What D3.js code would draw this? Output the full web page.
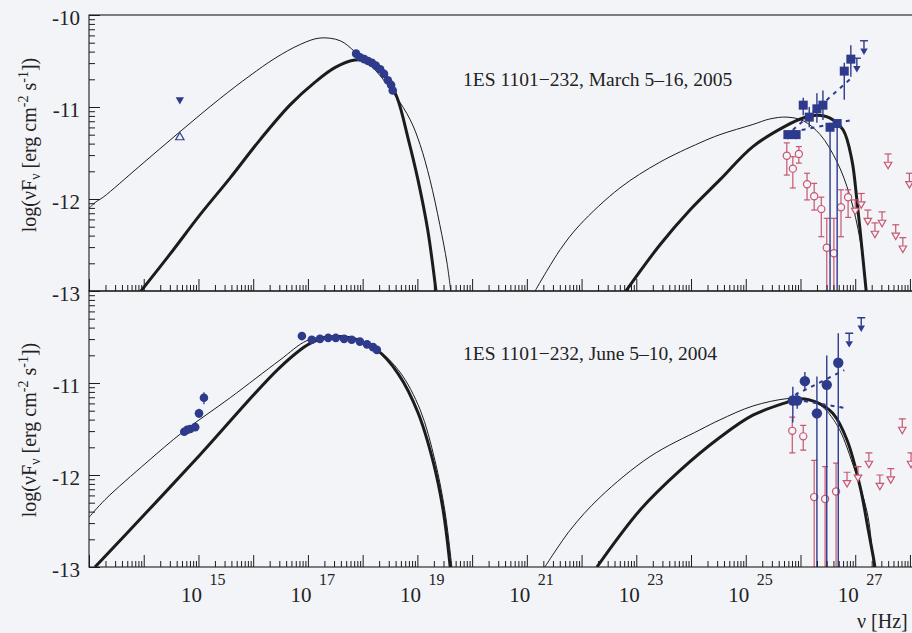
<!DOCTYPE html>
<html>
<head>
<meta charset="utf-8">
<script src="https://cdn.jsdelivr.net/npm/d3@7"></script>
<style>
  html, body { margin: 0; padding: 0; background: #f3f4f8; }
  svg { display: block; font-family: "Liberation Serif", "Times New Roman", serif; }
</style>
</head>
<body>
<svg id="chart" width="912" height="633"></svg>
<script>
// ---- data: [log10(nu), log10(nuFnu)] ----
// top panel, March 5-16 2005
const marSyncThin = [[13.00,-12.10],[13.13,-12.03],[13.26,-11.98],[13.93,-11.64],[14.66,-11.27],[15.39,-10.91],[15.94,-10.66],[16.40,-10.47],[16.86,-10.32],[17.22,-10.25],[17.59,-10.28],[17.86,-10.40],[18.23,-10.60],[18.59,-10.87],[18.87,-11.14],[19.05,-11.41],[19.23,-11.79],[19.41,-12.28],[19.54,-12.69],[19.61,-13.0]];
const marSyncThick = [[13.95,-13.0],[14.48,-12.60],[15.03,-12.17],[15.58,-11.77],[16.12,-11.36],[16.67,-10.98],[17.13,-10.73],[17.50,-10.57],[17.86,-10.49],[18.13,-10.51],[18.41,-10.65],[18.63,-10.90],[18.83,-11.34],[19.01,-11.79],[19.19,-12.34],[19.34,-13.0]];
const marICThin = [[21.15,-13.0],[21.61,-12.55],[21.97,-12.28],[22.70,-11.88],[23.43,-11.60],[24.16,-11.39],[24.53,-11.30],[25.13,-11.19],[25.44,-11.13],[25.75,-11.11],[26.05,-11.15],[26.36,-11.30],[26.67,-11.60],[26.90,-11.96],[27.09,-12.45],[27.20,-13.0]];
const marICThick = [[22.81,-13.0],[23.43,-12.50],[23.98,-12.12],[24.53,-11.79],[25.13,-11.43],[25.75,-11.20],[26.05,-11.12],[26.30,-11.09],[26.54,-11.12],[26.78,-11.25],[26.94,-11.58],[27.03,-12.01],[27.12,-12.52],[27.20,-13.0]];
const marXray = [[17.88,-10.42],[17.95,-10.46],[18.03,-10.48],[18.10,-10.50],[18.17,-10.52],[18.24,-10.55],[18.32,-10.59],[18.39,-10.64],[18.46,-10.71],[18.52,-10.76],[18.55,-10.82]];
const marOptLimit = [[14.66,-10.92]];
const marOptOpen = [[14.66,-11.33]];
// [nu, flux, errTop, errBottom]
const marVHE = [[25.77,-11.30,-11.26,-11.35],[25.92,-11.30,-11.26,-11.35],[26.05,-10.98,-10.90,-11.09],[26.16,-11.11,-11.00,-11.22],[26.30,-11.02,-10.85,-11.17],[26.41,-10.98,-10.82,-11.14],[26.54,-11.22,-11.17,-14],[26.67,-11.18,-11.16,-14],[26.80,-10.61,-10.52,-10.92],[26.92,-10.48,-10.33,-10.67]];
const marVHELimits = [[27.03,-10.47],[27.16,-10.28]];
const marBowUpper = [[25.86,-11.25],[26.96,-10.67]];
const marBowLower = [[25.86,-11.27],[26.96,-11.14]];
const marRed = [[25.75,-11.53,-11.39,-11.74],[25.86,-11.67,-11.54,-11.88],[25.97,-11.51,-11.43,-11.61],[26.12,-11.84,-11.72,-12.01],[26.25,-11.97,-11.83,-12.12],[26.38,-12.11,-11.98,-12.41],[26.48,-12.53,-12.21,-14],[26.61,-12.59,-12.21,-14],[26.74,-12.09,-11.90,-12.41],[26.87,-11.98,-11.90,-12.20]];
const marRedLimits = [[27.00,-12.01],[27.11,-11.94],[27.23,-12.12],[27.36,-12.26],[27.49,-12.14],[27.60,-11.51],[27.74,-12.28],[27.87,-12.42],[27.99,-11.72]];

// bottom panel, June 5-10 2004
const junSyncThin = [[13.00,-12.46],[13.29,-12.27],[14.06,-11.86],[14.72,-11.53],[15.58,-11.16],[16.49,-10.75],[16.98,-10.54],[17.40,-10.49],[17.86,-10.51],[18.26,-10.63],[18.68,-10.88],[19.05,-11.29],[19.32,-11.84],[19.50,-12.38],[19.63,-13.0]];
const junSyncThick = [[13.11,-13.0],[14.06,-12.40],[15.03,-11.78],[16.49,-10.83],[17.04,-10.57],[17.40,-10.50],[17.77,-10.51],[18.26,-10.64],[18.65,-10.90],[19.01,-11.32],[19.29,-11.86],[19.47,-12.38],[19.60,-13.0]];
const junICThin = [[21.33,-13.0],[21.79,-12.60],[22.34,-12.24],[23.25,-11.80],[24.16,-11.51],[24.53,-11.40],[25.13,-11.25],[25.75,-11.17],[26.05,-11.17],[26.36,-11.24],[26.67,-11.46],[26.96,-11.89],[27.22,-12.41],[27.31,-12.82],[27.34,-13.0]];
const junICThick = [[22.28,-13.0],[23.07,-12.38],[23.80,-11.95],[24.53,-11.59],[25.13,-11.35],[25.75,-11.21],[25.99,-11.17],[26.30,-11.21],[26.59,-11.33],[26.85,-11.62],[27.09,-12.13],[27.23,-12.57],[27.33,-12.89],[27.36,-13.0]];
const junXray = [[16.89,-10.49],[17.07,-10.53],[17.22,-10.52],[17.37,-10.51],[17.51,-10.51],[17.66,-10.52],[17.80,-10.53],[17.95,-10.55],[18.08,-10.58],[18.19,-10.61],[18.26,-10.64]];
const junOpt = [[14.74,-11.53,-11.53,-11.53],[14.79,-11.51,-11.51,-11.51],[14.85,-11.50,-11.50,-11.50],[14.94,-11.48,-11.48,-11.48],[15.01,-11.33,-11.28,-11.38],[15.10,-11.16,-11.10,-11.23]];
const junVHE = [[25.86,-11.19,-11.04,-11.43],[25.94,-11.19,-11.10,-11.28],[26.08,-10.98,-10.88,-11.08],[26.30,-11.33,-10.93,-14],[26.48,-11.02,-10.70,-14],[26.69,-10.78,-10.46,-14]];
const junVHELimits = [[26.89,-10.46],[27.11,-10.29]];
const junBowUpper = [[25.90,-11.13],[26.80,-10.86]];
const junBowLower = [[25.90,-11.18],[26.80,-11.27]];
const junRed = [[25.85,-11.52,-11.37,-11.76],[26.05,-11.58,-11.46,-11.73],[26.25,-12.24,-11.84,-14],[26.45,-12.26,-11.91,-14],[26.65,-12.18,-11.87,-14]];
const junRedLimits = [[26.85,-11.97],[27.05,-11.91],[27.25,-11.76],[27.45,-12.00],[27.65,-11.93],[27.86,-11.39],[28.02,-11.76]];

const xLabelExps = [15, 17, 19, 21, 23, 25, 27];
const yLabels = [-10, -11, -12, -13];

// ---- layout ----
const BLUE = '#2e3a8c';
const RED = '#c7566f';
const INK = '#1c1c1c';
const BG = '#f3f4f8';

const svg = d3.select('#chart');
const left = 89, decade = 54.73;
const x = d3.scaleLog()
  .domain([1e13, Math.pow(10, 28.5)])
  .range([left, left + decade * 15.5]);
const xRight = x.range()[1];

const panels = [
  { id: 'mar', top: 15, bottom: 291, title: '1ES 1101\u2212232, March 5\u201316, 2005',
    syncThin: marSyncThin, syncThick: marSyncThick, icThin: marICThin, icThick: marICThick,
    xray: marXray, vhe: marVHE, vheLim: marVHELimits, bow: [marBowUpper, marBowLower],
    red: marRed, redLim: marRedLimits, squares: true, yLab: yLabels, titleY: 86, axisTitleY: 145 },
  { id: 'jun', top: 291, bottom: 567, title: '1ES 1101\u2212232, June 5\u201310, 2004',
    syncThin: junSyncThin, syncThick: junSyncThick, icThin: junICThin, icThick: junICThick,
    xray: junXray, vhe: junVHE, vheLim: junVHELimits, bow: [junBowUpper, junBowLower],
    red: junRed, redLim: junRedLimits, squares: false, yLab: yLabels.slice(1), titleY: 360, axisTitleY: 430 }
];

const xTicks = [];
for (let n = 13; n <= 28; n++) {
  for (let k = 1; k <= 9; k++) {
    const v = k * Math.pow(10, n);
    if (v <= x.domain()[1]) xTicks.push(v);
  }
}
const yTicks = [-13, -12, -11, -10];
for (let n = -13; n <= -11; n++) {
  for (let k = 2; k <= 9; k++) yTicks.push(n + Math.log10(k));
}
const isDecade = d => Math.abs(Math.log10(d) - Math.round(Math.log10(d))) < 1e-6;

panels.forEach((p, i) => {
  const y = d3.scaleLinear().domain([-13, -10]).range([p.bottom, p.top]);
  const px = d => x(Math.pow(10, d[0]));
  const py = d => y(d[1]);

  const g = svg.append('g').attr('class', `panel-${p.id}`);

  svg.append('clipPath').attr('id', `clip-${p.id}`)
    .append('rect')
    .attr('x', left).attr('y', p.top)
    .attr('width', xRight - left).attr('height', p.bottom - p.top);

  const plot = g.append('g').attr('clip-path', `url(#clip-${p.id})`);

  // model curves
  const line = d3.line().x(px).y(py).curve(d3.curveCatmullRom.alpha(0.5));
  [[p.syncThin, 1], [p.icThin, 1], [p.syncThick, 3], [p.icThick, 3]].forEach(([data, w]) => {
    plot.append('path')
      .datum(data)
      .attr('fill', 'none')
      .attr('stroke', INK)
      .attr('stroke-width', w)
      .attr('stroke-linejoin', 'round')
      .attr('d', line);
  });

  // red points with error bars
  const redG = plot.append('g');
  redG.selectAll('.rbar').data(p.red).enter().append('line')
    .attr('x1', px).attr('x2', px)
    .attr('y1', d => y(d[2])).attr('y2', d => y(d[3]))
    .attr('stroke', RED).attr('stroke-width', 1.2);
  redG.selectAll('.rcapt').data(p.red).enter().append('line')
    .attr('x1', d => px(d) - 3).attr('x2', d => px(d) + 3)
    .attr('y1', d => y(d[2])).attr('y2', d => y(d[2]))
    .attr('stroke', RED).attr('stroke-width', 1.2);
  redG.selectAll('.rcapb').data(p.red.filter(d => d[3] > -13)).enter().append('line')
    .attr('x1', d => px(d) - 3).attr('x2', d => px(d) + 3)
    .attr('y1', d => y(d[3])).attr('y2', d => y(d[3]))
    .attr('stroke', RED).attr('stroke-width', 1.2);
  redG.selectAll('circle').data(p.red).enter().append('circle')
    .attr('cx', px).attr('cy', py).attr('r', 3.6)
    .attr('fill', BG).attr('stroke', RED).attr('stroke-width', 1.2);

  // red upper limits
  const tri = d3.symbol().type(d3.symbolTriangle).size(24);
  const redLim = redG.selectAll('.rlim').data(p.redLim).enter().append('g')
    .attr('transform', d => `translate(${px(d)},${py(d)})`);
  redLim.append('line').attr('x1', -3.5).attr('x2', 3.5).attr('stroke', RED).attr('stroke-width', 1.2);
  redLim.append('line').attr('y2', 8).attr('stroke', RED).attr('stroke-width', 1.2);
  redLim.append('path').attr('d', tri).attr('transform', 'translate(0,10.5) rotate(180)')
    .attr('fill', BG).attr('stroke', RED).attr('stroke-width', 1.2);

  // blue VHE points
  const blueG = plot.append('g');
  blueG.selectAll('.bbar').data(p.vhe).enter().append('line')
    .attr('x1', px).attr('x2', px)
    .attr('y1', d => y(d[2])).attr('y2', d => y(d[3]))
    .attr('stroke', BLUE).attr('stroke-width', 1.4);
  if (p.squares) {
    blueG.selectAll('rect').data(p.vhe).enter().append('rect')
      .attr('x', d => px(d) - 4.5).attr('y', d => py(d) - 4.5)
      .attr('width', 9).attr('height', 9).attr('fill', BLUE);
  } else {
    blueG.selectAll('circle').data(p.vhe).enter().append('circle')
      .attr('cx', px).attr('cy', py).attr('r', 5.2).attr('fill', BLUE);
  }
  const bLim = blueG.selectAll('.blim').data(p.vheLim).enter().append('g')
    .attr('transform', d => `translate(${px(d)},${py(d)})`);
  bLim.append('line').attr('x1', -4).attr('x2', 4).attr('stroke', BLUE).attr('stroke-width', 1.4);
  bLim.append('line').attr('y2', 8).attr('stroke', BLUE).attr('stroke-width', 1.4);
  bLim.append('path').attr('d', tri).attr('transform', 'translate(0,10) rotate(180)').attr('fill', BLUE);

  // butterfly
  p.bow.forEach(edge => {
    blueG.append('path').datum(edge)
      .attr('fill', 'none').attr('stroke', BLUE).attr('stroke-width', 2)
      .attr('stroke-dasharray', '4,5')
      .attr('d', d3.line().x(px).y(py));
  });

  // X-ray synchrotron data
  plot.append('g').selectAll('circle').data(p.xray).enter().append('circle')
    .attr('cx', px).attr('cy', py).attr('r', 4.3).attr('fill', BLUE);

  // optical / UV
  if (p.id === 'mar') {
    plot.selectAll('.optlim').data(marOptLimit).enter().append('path')
      .attr('d', d3.symbol().type(d3.symbolTriangle).size(30))
      .attr('transform', d => `translate(${px(d)},${py(d)}) rotate(180)`)
      .attr('fill', BLUE);
    plot.selectAll('.optopen').data(marOptOpen).enter().append('path')
      .attr('d', d3.symbol().type(d3.symbolTriangle).size(30))
      .attr('transform', d => `translate(${px(d)},${py(d)})`)
      .attr('fill', BG).attr('stroke', BLUE).attr('stroke-width', 1.2);
  } else {
    plot.selectAll('.optbar').data(junOpt).enter().append('line')
      .attr('x1', px).attr('x2', px)
      .attr('y1', d => y(d[2])).attr('y2', d => y(d[3]))
      .attr('stroke', BLUE).attr('stroke-width', 1.3);
    plot.selectAll('.opt').data(junOpt).enter().append('circle')
      .attr('cx', px).attr('cy', py).attr('r', 4.3).attr('fill', BLUE);
  }

  // frame
  g.append('rect')
    .attr('x', left).attr('y', p.top)
    .attr('width', xRight - left).attr('height', p.bottom - p.top)
    .attr('fill', 'none').attr('stroke', INK).attr('stroke-width', 1.1);

  // x axis (ticks point up, into the panel)
  const xAxis = g.append('g')
    .attr('transform', `translate(0,${p.bottom})`)
    .call(d3.axisBottom(x).tickValues(xTicks).tickSizeInner(-12).tickSizeOuter(0).tickFormat(''));
  xAxis.select('.domain').remove();
  xAxis.selectAll('.tick line')
    .attr('y2', d => isDecade(d) ? -12 : -6)
    .attr('stroke', INK);

  // y axis (ticks point right)
  const yAxis = g.append('g')
    .attr('transform', `translate(${left},0)`)
    .call(d3.axisLeft(y).tickValues(yTicks).tickSizeInner(-11).tickSizeOuter(0).tickPadding(9)
      .tickFormat(d => p.yLab.includes(d) ? String(d) : ''));
  yAxis.select('.domain').remove();
  yAxis.selectAll('.tick line')
    .attr('x2', d => Number.isInteger(d) ? 11 : 6)
    .attr('stroke', INK);
  yAxis.selectAll('.tick text')
    .attr('font-size', 21).attr('font-family', '"Liberation Serif", serif')
    .attr('fill', '#222').attr('dy', '0.45em');

  // panel title
  g.append('text')
    .attr('x', 463).attr('y', p.titleY)
    .attr('font-size', 19.5).attr('fill', '#222')
    .text(p.title);

  // y axis title
  const yt = g.append('text')
    .attr('transform', `translate(36,${p.axisTitleY}) rotate(-90)`)
    .attr('text-anchor', 'middle')
    .attr('font-size', 20).attr('fill', '#222');
  yt.append('tspan').text('log(\u03bdF');
  yt.append('tspan').attr('font-size', 14).attr('dy', 4).text('\u03bd');
  yt.append('tspan').attr('dy', -4).text(' [erg cm');
  yt.append('tspan').attr('font-size', 14).attr('dy', -8).text('-2');
  yt.append('tspan').attr('dy', 8).text(' s');
  yt.append('tspan').attr('font-size', 14).attr('dy', -8).text('-1');
  yt.append('tspan').attr('dy', 8).text('])');

  // x tick labels on the lower panel
  if (i === panels.length - 1) {
    const lab = g.append('g').selectAll('g').data(xLabelExps).enter().append('g')
      .attr('transform', e => `translate(${x(Math.pow(10, e))},0)`)
      .attr('fill', '#222');
    lab.append('text').attr('x', -7).attr('y', 602).attr('text-anchor', 'middle')
      .attr('font-size', 21).text('10');
    lab.append('text').attr('x', 11).attr('y', 585)
      .attr('font-size', 16).text(e => e);
    g.append('text').attr('x', 857).attr('y', 628)
      .attr('font-size', 20).attr('fill', '#222').text('\u03bd [Hz]');
  }
});
</script>
</body>
</html>
